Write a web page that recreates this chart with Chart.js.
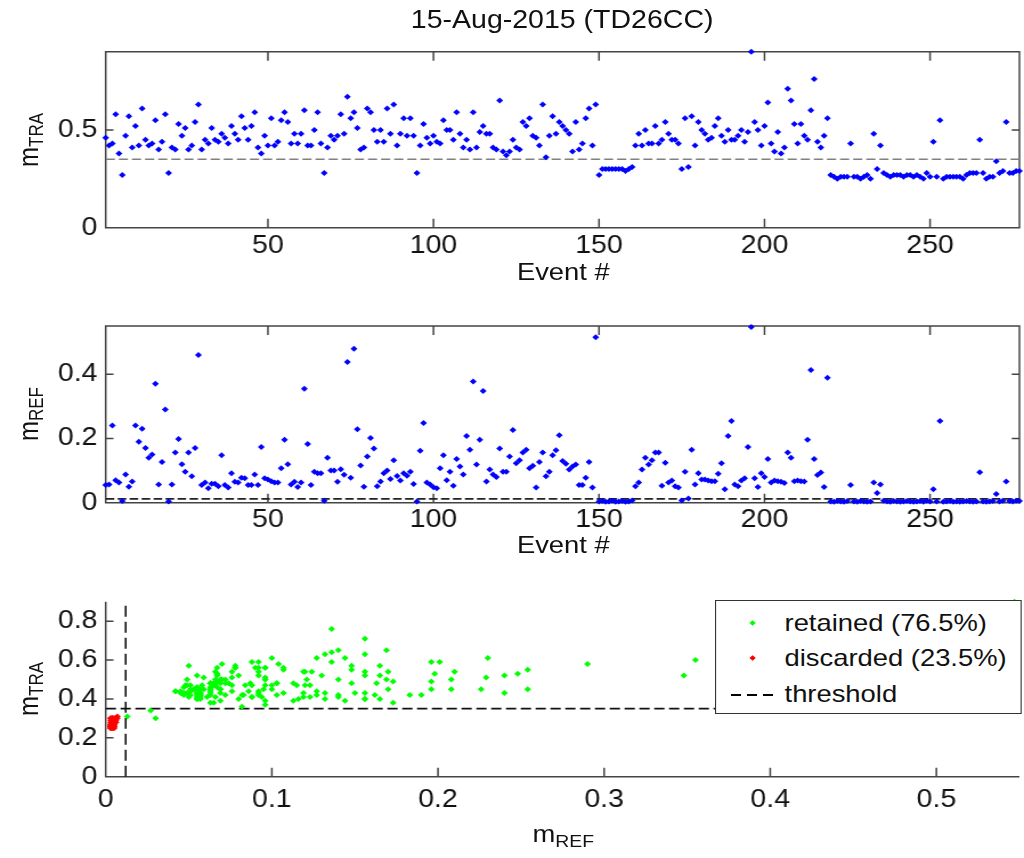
<!DOCTYPE html>
<html>
<head>
<meta charset="utf-8">
<script src="https://cdn.jsdelivr.net/npm/chart.js@4.4.1/dist/chart.umd.min.js"></script>
<style>
  html, body { margin: 0; padding: 0; background: #fff; overflow: hidden; }
  /* the reference figure is stretched horizontally, so lay out narrower and scale */
  #fig { position: absolute; left: 0; top: 0; width: 898px; height: 858px;
         transform: scaleX(1.1403); transform-origin: 0 0;
         font-family: "Liberation Sans", Arial, sans-serif; color: #111; }
  #fig canvas { position: absolute; left: 0; }
  .lbl { position: absolute; font-size: 24px; line-height: 1; white-space: nowrap;
         transform: translate(-50%, -50%); }
  .ylbl { transform: translate(-50%, -50%) rotate(-90deg); }
  .lbl sub { font-size: 17px; vertical-align: -5px; line-height: 0; }
  #title { font-size: 25px; }
  #legend { position: absolute; left: 627px; top: 600px; width: 269px; height: 114px;
            box-sizing: border-box; border: 1.5px solid #333; background: #fff; }
  #legend .row { position: absolute; left: 0; width: 100%; height: 0; }
  #legend .mk { position: absolute; left: 30px; top: -2px; width: 4px; height: 4px; transform: rotate(45deg); }
  #legend .dash { position: absolute; left: 13px; top: 0; width: 42px; height: 1.5px;
                  background: repeating-linear-gradient(to right, #000 0 9px, transparent 9px 14px); }
  #legend .tx { position: absolute; left: 60px; top: 0; transform: translateY(-50%);
                font-size: 24px; line-height: 1; white-space: nowrap; }
</style>
</head>
<body>
<div id="fig">
  <canvas id="topChart" width="898" height="290" style="top:0px"></canvas>
  <canvas id="midChart" width="898" height="270" style="top:290px"></canvas>
  <canvas id="botChart" width="898" height="298" style="top:560px"></canvas>

  <div id="title" class="lbl" style="left:493px;top:19px">15-Aug-2015 (TD26CC)</div>
  <div class="lbl" style="left:494px;top:272px">Event #</div>
  <div class="lbl" style="left:494px;top:545px">Event #</div>
  <div class="lbl" style="left:494px;top:834px">m<sub>REF</sub></div>
  <div class="lbl ylbl" style="left:25px;top:140px">m<sub>TRA</sub></div>
  <div class="lbl ylbl" style="left:25px;top:414px">m<sub>REF</sub></div>
  <div class="lbl ylbl" style="left:25px;top:689px">m<sub>TRA</sub></div>

  <div id="legend">
    <div class="row" style="top:22px"><span class="mk" style="background:#00ff00"></span><span class="tx">retained (76.5%)</span></div>
    <div class="row" style="top:57px"><span class="mk" style="background:#ff0000"></span><span class="tx">discarded (23.5%)</span></div>
    <div class="row" style="top:93px"><span class="dash"></span><span class="tx">threshold</span></div>
  </div>
</div>

<script>
// per-event values
const mTRA = [
  0.46,0.42,0.43,0.58,0.38,0.27,0.47,0.57,0.41,0.52,
  0.42,0.61,0.45,0.42,0.43,0.55,0.40,0.44,0.58,0.28,
  0.41,0.40,0.53,0.47,0.51,0.40,0.42,0.54,0.63,0.40,
  0.45,0.43,0.51,0.45,0.44,0.48,0.46,0.43,0.52,0.48,
  0.45,0.57,0.51,0.45,0.52,0.59,0.41,0.38,0.47,0.42,
  0.56,0.42,0.44,0.55,0.59,0.54,0.43,0.48,0.43,0.48,
  0.60,0.42,0.42,0.50,0.59,0.43,0.28,0.41,0.47,0.45,
  0.47,0.58,0.48,0.67,0.56,0.59,0.51,0.40,0.41,0.61,
  0.59,0.50,0.44,0.50,0.44,0.61,0.48,0.63,0.42,0.48,
  0.56,0.47,0.56,0.47,0.28,0.42,0.53,0.46,0.43,0.47,
  0.44,0.43,0.55,0.50,0.50,0.45,0.59,0.48,0.41,0.45,
  0.40,0.59,0.41,0.49,0.52,0.48,0.48,0.41,0.40,0.65,
  0.39,0.37,0.39,0.45,0.41,0.40,0.54,0.52,0.56,0.47,
  0.46,0.42,0.63,0.36,0.47,0.57,0.48,0.54,0.52,0.50,
  0.48,0.39,0.54,0.40,0.43,0.56,0.61,0.42,0.63,0.27,
  0.30,0.30,0.30,0.30,0.30,0.30,0.30,0.29,0.30,0.31,
  0.42,0.48,0.42,0.50,0.43,0.43,0.52,0.43,0.45,0.54,
  0.48,0.45,0.45,0.43,0.30,0.56,0.31,0.57,0.42,0.54,
  0.50,0.48,0.45,0.46,0.52,0.56,0.47,0.44,0.50,0.45,
  0.45,0.47,0.50,0.44,0.49,0.90,0.54,0.50,0.42,0.52,
  0.64,0.43,0.39,0.49,0.38,0.41,0.71,0.65,0.53,0.43,
  0.53,0.47,0.45,0.60,0.76,0.44,0.41,0.47,0.56,0.27,
  0.26,0.25,0.26,0.26,0.26,0.43,0.26,0.26,0.25,0.26,
  0.27,0.25,0.48,0.30,0.42,0.28,0.27,0.26,0.27,0.27,
  0.27,0.26,0.27,0.27,0.26,0.27,0.26,0.25,0.28,0.26,
  0.44,0.26,0.55,0.25,0.26,0.26,0.26,0.26,0.26,0.25,
  0.27,0.28,0.28,0.28,0.45,0.28,0.25,0.26,0.26,0.34,
  0.28,0.29,0.54,0.28,0.28,0.29,0.29
];

const mREF = [
  0.055,0.057,0.24,0.07,0.063,0.005,0.088,0.05,0.066,0.24,
  0.19,0.23,0.17,0.14,0.15,0.37,0.057,0.127,0.29,0.004,
  0.057,0.156,0.198,0.12,0.096,0.156,0.082,0.17,0.46,0.055,
  0.063,0.045,0.059,0.059,0.051,0.148,0.055,0.047,0.092,0.065,
  0.063,0.078,0.076,0.055,0.055,0.088,0.055,0.173,0.076,0.072,
  0.067,0.063,0.063,0.107,0.196,0.12,0.057,0.065,0.049,0.063,
  0.355,0.183,0.055,0.096,0.092,0.092,0.006,0.14,0.10,0.10,
  0.065,0.104,0.087,0.438,0.078,0.479,0.229,0.116,0.05,0.144,
  0.201,0.169,0.051,0.066,0.092,0.10,0.074,0.132,0.083,0.069,
  0.092,0.084,0.096,0.058,0.004,0.162,0.248,0.063,0.057,0.048,
  0.045,0.107,0.148,0.070,0.096,0.053,0.136,0.113,0.088,0.208,
  0.165,0.377,0.119,0.196,0.348,0.066,0.103,0.088,0.080,0.169,
  0.096,0.096,0.144,0.226,0.123,0.132,0.156,0.165,0.107,0.115,
  0.047,0.127,0.156,0.082,0.096,0.148,0.163,0.21,0.13,0.121,
  0.103,0.113,0.119,0.055,0.055,0.078,0.127,0.047,0.515,0.004,
  0.005,0.003,0.004,0.006,0.003,0.004,0.005,0.003,0.004,0.007,
  0.051,0.063,0.103,0.14,0.119,0.132,0.156,0.156,0.053,0.124,
  0.063,0.069,0.051,0.047,0.007,0.096,0.013,0.165,0.057,0.092,
  0.072,0.072,0.069,0.067,0.067,0.09,0.123,0.042,0.208,0.254,
  0.057,0.051,0.069,0.076,0.173,0.547,0.076,0.049,0.092,0.08,
  0.136,0.063,0.069,0.067,0.065,0.061,0.156,0.14,0.067,0.069,
  0.067,0.066,0.196,0.413,0.136,0.086,0.094,0.049,0.389,0.004,
  0.003,0.005,0.004,0.003,0.005,0.055,0.004,0.003,0.005,0.004,
  0.003,0.004,0.063,0.030,0.057,0.006,0.004,0.003,0.005,0.004,
  0.003,0.004,0.005,0.004,0.003,0.004,0.005,0.003,0.006,0.004,
  0.042,0.004,0.254,0.003,0.004,0.005,0.003,0.004,0.003,0.004,
  0.005,0.004,0.003,0.004,0.095,0.004,0.003,0.004,0.005,0.027,
  0.004,0.006,0.066,0.005,0.004,0.006,0.005
];

const eventNo = mTRA.map((_, i) => i + 1);

const traThreshold = 0.35;
const refThreshold = 0.012;

const eventTicks = [50, 100, 150, 200, 250];
const traTicks = [0, 0.5];
const refTicks = [0, 0.2, 0.4];
const scatterXTicks = [0, 0.1, 0.2, 0.3, 0.4, 0.5];
const scatterYTicks = [0, 0.2, 0.4, 0.6, 0.8];

Chart.defaults.font.family = '"Liberation Sans", Arial, sans-serif';
Chart.defaults.font.size = 25;
Chart.defaults.color = '#111';

// MATLAB-like axes: frame plus ticks pointing inwards
const frame = {
    id: 'frame',
    beforeDatasetsDraw(chart, args, opts) {
        const { ctx, chartArea: a } = chart;
        const x = chart.scales.x, y = chart.scales.y;
        ctx.save();
        ctx.strokeStyle = '#444';
        ctx.lineWidth = 1.5;
        ctx.beginPath();
        if (opts.box) {
            ctx.rect(a.left, a.top, a.right - a.left, a.bottom - a.top);
        } else {
            ctx.moveTo(a.left, a.top);
            ctx.lineTo(a.left, a.bottom);
            ctx.lineTo(a.right, a.bottom);
        }
        x.ticks.forEach(t => {
            const px = x.getPixelForValue(t.value);
            ctx.moveTo(px, a.bottom); ctx.lineTo(px, a.bottom - 9);
            if (opts.box) { ctx.moveTo(px, a.top); ctx.lineTo(px, a.top + 9); }
        });
        y.ticks.forEach(t => {
            const py = y.getPixelForValue(t.value);
            ctx.moveTo(a.left, py); ctx.lineTo(a.left + 6.8, py);
            if (opts.box) { ctx.moveTo(a.right, py); ctx.lineTo(a.right - 6.8, py); }
        });
        ctx.stroke();
        ctx.restore();
    }
};

function axis(min, max, ticks, pad, size, horizontal) {
    return {
        type: 'linear',
        min: min,
        max: max,
        grid: { display: false, drawTicks: false },
        border: { display: false },
        ticks: { padding: pad, maxRotation: 0, autoSkip: false, color: '#111', callback: v => String(v) },
        afterBuildTicks: s => { s.ticks = ticks.map(v => ({ value: v })); },
        afterFit: s => { if (horizontal) s.height = size; else s.width = size; }
    };
}

function points(xs, ys, color) {
    return {
        data: xs.map((v, i) => ({ x: v, y: ys[i] })),
        pointStyle: 'rectRot',
        pointRadius: 3,
        backgroundColor: color,
        borderWidth: 0,
        clip: false
    };
}

function dashed(x0, x1, y0, y1, color, dash) {
    return {
        data: [{ x: x0, y: y0 }, { x: x1, y: y1 }],
        showLine: true,
        pointRadius: 0,
        borderColor: color,
        borderWidth: 1.6,
        borderDash: dash
    };
}

function makeChart(id, datasets, scales, padTop, box) {
    return new Chart(document.getElementById(id), {
        type: 'scatter',
        data: { datasets: datasets },
        options: {
            responsive: false,
            animation: false,
            events: [],
            layout: { padding: { top: padTop, right: 3.3, left: 0, bottom: 0 } },
            scales: scales,
            plugins: { legend: { display: false }, tooltip: { enabled: false }, frame: { box: box } }
        },
        plugins: [frame]
    });
}

const firstEv = eventNo[0], lastEv = eventNo[eventNo.length - 1];

// top: mTRA per event
makeChart('topChart', [
    points(eventNo, mTRA, '#0000ff'),
    dashed(firstEv, lastEv, traThreshold, traThreshold, '#808080', [8, 3.5])
], {
    x: axis(firstEv, lastEv, eventTicks, 3, 62.3, true),
    y: axis(0, 0.9, traTicks, 7.2, 92.7, false)
}, 51.7, true);

// middle: mREF per event
makeChart('midChart', [
    points(eventNo, mREF, '#0000ff'),
    dashed(firstEv, lastEv, refThreshold, refThreshold, '#222', [7.5, 3])
], {
    x: axis(firstEv, lastEv, eventTicks, 2, 57.3, true),
    y: axis(0, 0.55, refTicks, 7.2, 92.7, false)
}, 36, true);

// bottom: mTRA against mREF, discarded when both fall under their thresholds
const isDiscarded = mTRA.map((t, i) => t < traThreshold && mREF[i] < refThreshold);
const keptRef = mREF.filter((_, i) => !isDiscarded[i]);
const keptTra = mTRA.filter((_, i) => !isDiscarded[i]);
const dropRef = mREF.filter((_, i) => isDiscarded[i]);
const dropTra = mTRA.filter((_, i) => isDiscarded[i]);

makeChart('botChart', [
    points(keptRef, keptTra, '#00ff00'),
    points(dropRef, dropTra, '#ff0000'),
    dashed(0, 0.55, traThreshold, traThreshold, '#111', [9, 4]),
    dashed(refThreshold, refThreshold, 0, 0.9, '#111', [11, 5])
], {
    x: axis(0, 0.55, scatterXTicks, 8, 81.3, true),
    y: axis(0, 0.9, scatterYTicks, 7.2, 92.7, false)
}, 41.7, false);
</script>
</body>
</html>
